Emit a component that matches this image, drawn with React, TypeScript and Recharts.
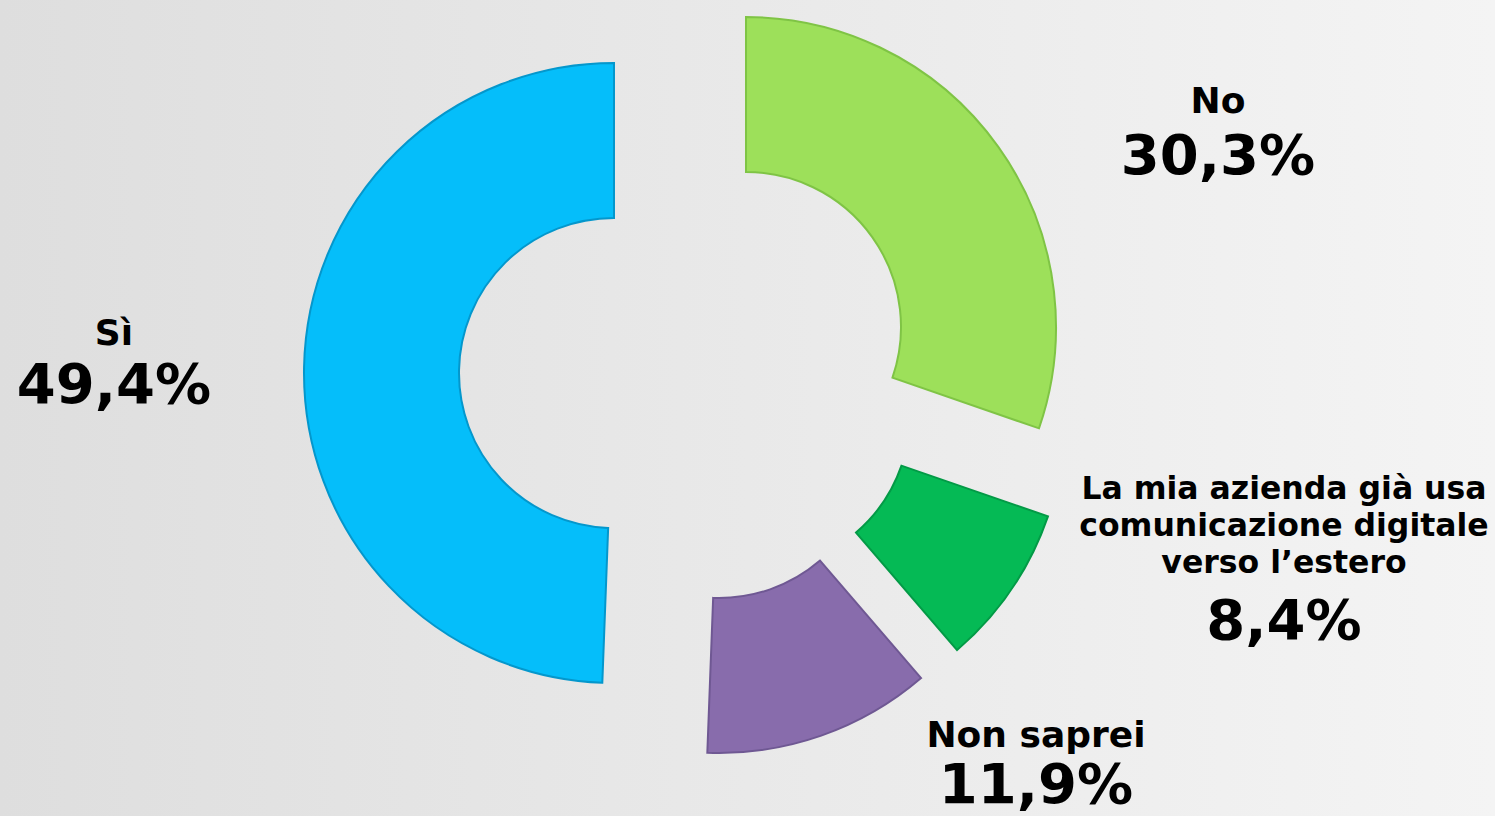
import React from 'react';
import { PieChart, Pie, Cell } from 'recharts';

// Slices in drawing order: clockwise from 12 o'clock
const categories = ['No', 'La mia azienda già usa comunicazione digitale verso l’estero', 'Non saprei', 'Sì'];
const values = [30.3, 8.4, 11.9, 49.4];
const percentLabels = ['30,3%', '8,4%', '11,9%', '49,4%'];
const nameLines = [
  ['No'],
  ['La mia azienda già usa', 'comunicazione digitale', 'verso l’estero'],
  ['Non saprei'],
  ['Sì'],
];

const colors = ['#9DE05A', '#05BA55', '#886CAC', '#05BEFA'];
const strokes = ['#7FC445', '#039A46', '#6F5893', '#0497CC'];

const data = categories.map((name, i) => ({ name, value: values[i] }));

// exploded slice centres
const centers = [
  { cx: 746, cy: 327 },
  { cx: 755, cy: 415 },
  { cx: 719, cy: 443 },
  { cx: 614, cy: 373 },
];

const labelPos = [
  { x: 1218, nameY: [113], nameSize: 36, pctY: 174 },
  { x: 1284, nameY: [499, 536, 573], nameSize: 31.5, pctY: 639 },
  { x: 1036, nameY: [747], nameSize: 36, pctY: 803 },
  { x: 114, nameY: [345], nameSize: 36, pctY: 403 },
];

const FONT = '"DejaVu Sans", Verdana, sans-serif';

const makeLabel = (own: number) => (props: any) => {
  if (props.index !== own) return <g />;
  const p = labelPos[own];
  return (
    <g>
      {nameLines[own].map((line, k) => (
        <text
          key={k}
          x={p.x}
          y={p.nameY[k]}
          textAnchor="middle"
          fontFamily={FONT}
          fontWeight="bold"
          fontSize={p.nameSize}
          fill="#000"
        >
          {line}
        </text>
      ))}
      <text x={p.x} y={p.pctY} textAnchor="middle" fontFamily={FONT} fontWeight="bold" fontSize={56} fill="#000">
        {percentLabels[own]}
      </text>
    </g>
  );
};

export default function App() {
  return (
    <div
      style={{
        position: 'absolute',
        left: 0,
        top: 0,
        width: 1495,
        height: 816,
        background: 'linear-gradient(to right, #dedede 0%, #e9e9e9 50%, #f4f4f4 100%)',
        overflow: 'hidden',
      }}
    >
      <PieChart width={1495} height={816} margin={{ top: 0, right: 0, bottom: 0, left: 0 }}>
        {centers.map((c, own) => (
          <Pie
            key={own}
            data={data}
            dataKey="value"
            nameKey="name"
            cx={c.cx}
            cy={c.cy}
            innerRadius={155}
            outerRadius={310}
            startAngle={90}
            endAngle={-270}
            isAnimationActive={false}
            label={makeLabel(own)}
            labelLine={false}
          >
            {data.map((_, i) => (
              <Cell
                key={i}
                fill={i === own ? colors[i] : 'transparent'}
                stroke={i === own ? strokes[i] : 'none'}
                strokeWidth={i === own ? 2 : 0}
              />
            ))}
          </Pie>
        ))}
      </PieChart>
    </div>
  );
}
